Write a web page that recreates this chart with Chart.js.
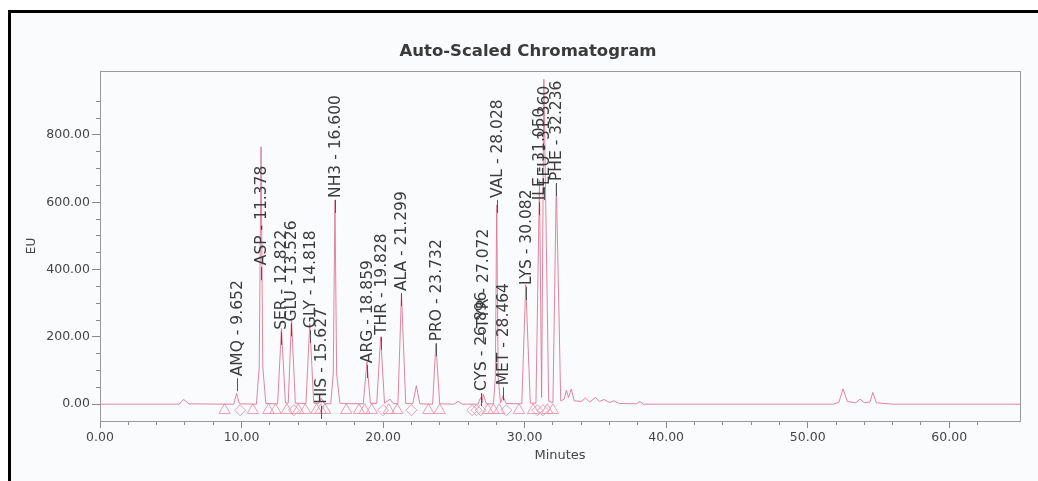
<!DOCTYPE html>
<html>
<head>
<meta charset="utf-8">
<title>Auto-Scaled Chromatogram</title>
<script src="https://cdn.jsdelivr.net/npm/chart.js@4.4.0/dist/chart.umd.min.js"></script>
<style>
  html, body { margin: 0; padding: 0; background: #fff; }
  #wrap { position: relative; width: 1038px; height: 481px; }
</style>
</head>
<body>
<div id="wrap"><canvas id="chromatogram" width="1038" height="481"></canvas></div>
<script>
//Detector trace: [minutes, EU]
const tracePts = [
    [0, 0], [5.6, 0], [5.9, 14], [6.3, 1], [8.9, 0],
    [9.45, 0], [9.65, 32], [9.85, 1],
    [11.05, 0], [11.25, 110], [11.38, 765], [11.5, 110], [11.72, 2],
    [12.55, 1], [12.82, 225], [13.1, 4],
    [13.3, 3], [13.53, 255], [13.8, 3],
    [14.55, 2], [14.82, 240], [15.1, 3],
    [15.45, 2], [15.63, 18], [15.85, 2],
    [16.3, 1], [16.48, 90], [16.6, 607], [16.72, 90], [16.95, 3], [17.3, 2],
    [18.6, 1], [18.86, 125], [19.1, 3],
    [19.55, 2], [19.83, 200], [20.1, 3],
    [20.5, 15], [20.7, 2],
    [21.05, 1], [21.3, 330], [21.6, 2],
    [22.1, 1], [22.35, 55], [22.6, 1],
    [23.5, 0], [23.73, 180], [24.0, 1],
    [25.0, 0], [25.3, 8], [25.6, 0],
    [26.7, 0], [26.9, 20], [27.0, 4], [27.07, 30], [27.3, 1],
    [27.8, 1], [27.93, 80], [28.03, 592], [28.13, 80], [28.3, 3],
    [28.46, 25], [28.7, 2],
    [29.8, 1], [30.08, 355], [30.4, 3],
    [30.8, 3], [31.05, 665], [31.2, 20], [31.36, 965], [31.7, 8],
    [32.0, 5], [32.24, 655], [32.55, 10],
    [32.8, 15], [32.95, 42], [33.1, 20], [33.3, 45], [33.5, 10],
    [34.0, 8], [34.3, 18], [34.6, 6], [35.0, 20], [35.3, 8], [35.6, 14],
    [36.0, 5], [36.3, 10], [36.7, 2], [37.9, 1], [38.15, 8], [38.4, 0],
    [51.8, 0], [52.2, 5], [52.5, 45], [52.8, 8], [53.4, 4], [53.7, 15],
    [54.0, 5], [54.4, 6], [54.6, 35], [54.85, 4], [56, 0], [65, 0],
];

//Integrated peaks
const peakNames = ['AMQ', 'ASP', 'SER', 'GLU', 'GLY', 'HIS', 'NH3', 'ARG', 'THR', 'ALA',
    'PRO', 'CYS', 'TYR', 'VAL', 'MET', 'LYS', 'ILE', 'LEU', 'PHE'];
const peakTimes = [9.652, 11.378, 12.822, 13.526, 14.818, 15.627, 16.600, 18.859, 19.828, 21.299,
    23.732, 26.896, 27.072, 28.028, 28.464, 30.082, 31.050, 31.360, 32.236];
//EU level where each label starts
const labelAt = [77, 407, 215, 240, 220, -5, 607, 116, 200, 330,
    181, 33, 220, 607, 50, 348, 600, 645, 657];

//Baseline start/end marks
const triangleMarks = [8.8, 10.8, 11.9, 12.4, 13.2, 14.0, 14.5, 15.3, 15.6, 15.9, 17.4, 18.3,
    18.7, 19.2, 20.4, 21.0, 23.2, 24.0, 27.4, 27.8, 28.2, 29.6, 30.6, 31.6, 32.0];
const diamondMarks = [9.9, 13.7, 20.0, 22.0, 26.3, 26.6, 26.9, 28.7, 30.9, 31.3];

const xTicks = { min: 0, max: 65, step: 2, labelEvery: 10 };
const yTicks = { min: -50, max: 990, step: 50, labelEvery: 200 };

const traceColor = 'rgba(222, 120, 148, 0.9)';
const markColor = 'rgba(228, 145, 168, 0.85)';
const markLevel = -18;
const axisGray = '#9a9a9a';
const textGray = '#454545';


//Page frame and background
const pageFrame = {
    id: 'pageFrame',
    beforeDraw(chart) {
        const ctx = chart.ctx;
        ctx.save();
        ctx.fillStyle = '#ffffff';
        ctx.fillRect(0, 0, chart.width, chart.height);
        ctx.fillStyle = '#fafbfc';
        ctx.fillRect(10, 12, chart.width, chart.height);
        ctx.fillStyle = '#000000';
        ctx.fillRect(8, 10, chart.width - 8, 3);
        ctx.fillRect(8, 10, 3, chart.height - 10);
        ctx.restore();
    },
    afterDraw(chart) {
        const ctx = chart.ctx;
        ctx.save();
        ctx.fillStyle = '#3a3a3a';
        ctx.font = 'bold 16.5px "DejaVu Sans"';
        ctx.textAlign = 'center';
        ctx.textBaseline = 'middle';
        ctx.fillText('Auto-Scaled Chromatogram', 528, 52);
        ctx.restore();
    }
};


//Plot box and peak labels
const peakLabels = {
    id: 'peakLabels',
    afterDatasetsDraw(chart) {
        const {ctx, chartArea: area} = chart;
        const xs = chart.scales.x;
        const ys = chart.scales.y;
        ctx.save();
        ctx.strokeStyle = axisGray;
        ctx.lineWidth = 1;
        ctx.strokeRect(area.left + 0.5, area.top + 0.5, area.right - area.left, area.bottom - area.top);

        ctx.font = '15.5px "DejaVu Sans"';
        ctx.fillStyle = '#3c3c3c';
        ctx.strokeStyle = '#555555';
        ctx.textAlign = 'left';
        ctx.textBaseline = 'middle';
        peakNames.forEach((name, i) => {
            const x = Math.round(xs.getPixelForValue(peakTimes[i])) + 0.5;
            const y = ys.getPixelForValue(labelAt[i]);
            ctx.beginPath();
            ctx.moveTo(x, y);
            ctx.lineTo(x, y + 13);
            ctx.stroke();
            ctx.save();
            ctx.translate(x, y - 2);
            ctx.rotate(-Math.PI / 2);
            ctx.fillText(name + ' - ' + peakTimes[i].toFixed(3), 0, 0);
            ctx.restore();
        });
        ctx.restore();
    }
};


//Chromatogram
const chromatogram = document.getElementById('chromatogram');
const chromatogramChart = new Chart(chromatogram, {
    type: 'line',
    data: {
        datasets: [{
            label: 'EU',
            data: tracePts.map(([x, y]) => ({x, y})),
            borderColor: traceColor,
            borderWidth: 1,
            pointRadius: 0,
            tension: 0,
            fill: false,
        }, {
            label: 'Baseline start/end',
            data: triangleMarks.map(x => ({x, y: markLevel})),
            showLine: false,
            pointStyle: 'triangle',
            pointRadius: 6.5,
            borderColor: markColor,
            backgroundColor: 'rgba(0, 0, 0, 0)',
            borderWidth: 1,
        }, {
            label: 'Baseline drop',
            data: diamondMarks.map(x => ({x, y: markLevel})),
            showLine: false,
            pointStyle: 'rectRot',
            pointRadius: 5.5,
            borderColor: markColor,
            backgroundColor: 'rgba(0, 0, 0, 0)',
            borderWidth: 1,
        }]
    },
    options: {
        responsive: false,
        animation: false,
        layout: {padding: {top: 71, right: 18, left: 0, bottom: 0}},
        plugins: {
            legend: {display: false},
            tooltip: {enabled: false},
            title: {display: false},
        },
        scales: {
            x: {
                type: 'linear',
                min: xTicks.min,
                max: xTicks.max,
                afterFit: s => { s.height = 60; },
                border: {display: true, color: axisGray, width: 1},
                grid: {
                    drawOnChartArea: false,
                    tickLength: 7,
                    tickColor: c => (c.tick && c.tick.value % xTicks.step === 0) ? '#8a8a8a' : 'rgba(0,0,0,0)',
                    tickBorderDash: c => (c.tick && c.tick.value % xTicks.labelEvery === 0) ? [] : [3, 10],
                },
                ticks: {
                    stepSize: xTicks.step,
                    autoSkip: false,
                    maxRotation: 0,
                    padding: 2,
                    color: textGray,
                    font: {family: 'DejaVu Sans', size: 12.5},
                    callback: v => v % xTicks.labelEvery === 0 ? v.toFixed(2) : '',
                },
                title: {
                    display: true,
                    text: 'Minutes',
                    color: textGray,
                    font: {family: 'DejaVu Sans', size: 13},
                    padding: {top: 0, bottom: 18},
                },
            },
            y: {
                type: 'linear',
                min: yTicks.min,
                max: yTicks.max,
                afterFit: s => { s.width = 100; },
                border: {display: true, color: axisGray, width: 1},
                grid: {
                    drawOnChartArea: false,
                    tickLength: 8,
                    tickColor: c => (c.tick && c.tick.value >= 0 && c.tick.value % yTicks.step === 0) ? '#8a8a8a' : 'rgba(0,0,0,0)',
                    tickBorderDash: c => (c.tick && c.tick.value % yTicks.labelEvery === 0) ? [] : [4, 4],
                    tickBorderDashOffset: c => (c.tick && c.tick.value % yTicks.labelEvery === 0) ? 0 : 4,
                },
                ticks: {
                    stepSize: yTicks.step,
                    autoSkip: false,
                    padding: 2,
                    color: textGray,
                    font: {family: 'DejaVu Sans', size: 12.5},
                    callback: v => (v >= 0 && v % yTicks.labelEvery === 0) ? v.toFixed(2) : '',
                },
                title: {
                    display: true,
                    text: 'EU',
                    color: textGray,
                    font: {family: 'DejaVu Sans', size: 12},
                    padding: {top: 25, bottom: 0},
                },
            },
        },
    },
    plugins: [pageFrame, peakLabels],
});
</script>
</body>
</html>
